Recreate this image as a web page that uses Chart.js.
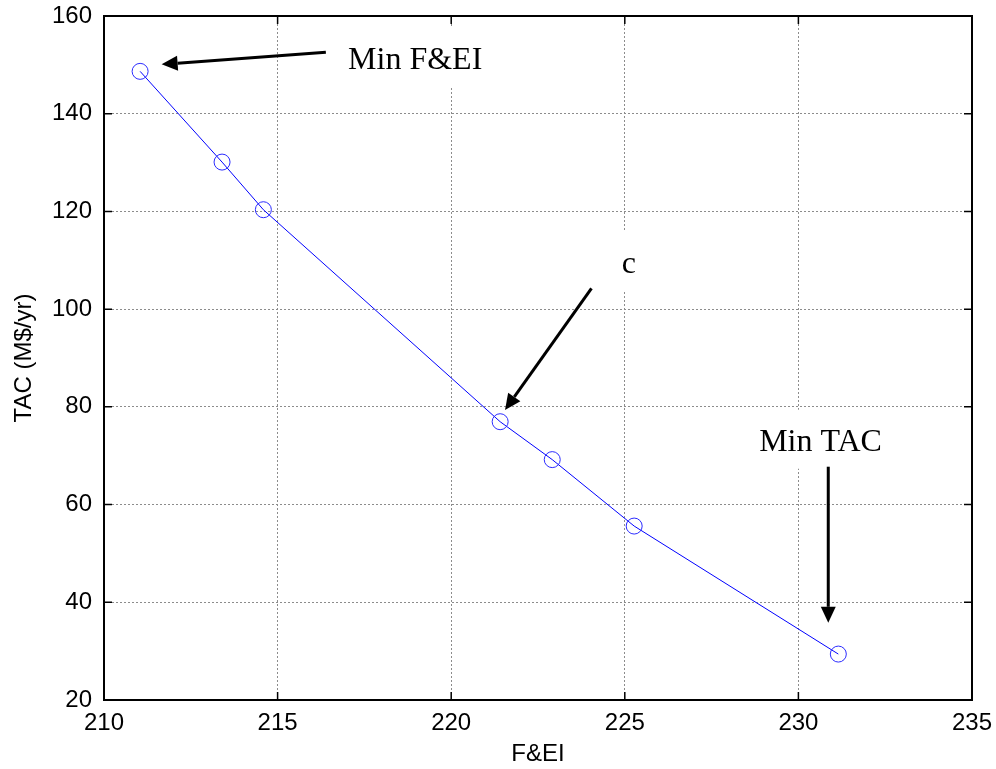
<!DOCTYPE html>
<html>
<head>
<meta charset="utf-8">
<script src="https://cdn.jsdelivr.net/npm/chart.js@4/dist/chart.umd.min.js"></script>
<style>
    html, body { margin: 0; padding: 0; background: #fff; }
    #paretoChart { display: block; }
</style>
</head>
<body>
<canvas id="paretoChart" width="996" height="769"></canvas>
<script>
// Pareto front: F&EI against total annual cost
const feiValues = [211.04, 213.40, 214.59, 221.41, 222.91, 225.27, 231.15];
const tacValues = [148.67, 130.10, 120.35, 76.96, 69.20, 55.60, 29.40];

const xTicks = [210, 215, 220, 225, 230, 235];
const yTicks = [20, 40, 60, 80, 100, 120, 140, 160];

// annotation labels (left edge / baseline, in data units)
const noteText = ["Min F&EI", "c", "Min TAC"];
const noteX = [217.03, 224.91, 228.87];
const noteY = [149.15, 107.40, 71.02];

// arrows: tail -> tip, in data units
const arrowFromX = [216.39, 224.04, 230.86];
const arrowFromY = [152.60, 104.26, 67.75];
const arrowToX = [211.66, 221.55, 230.86];
const arrowToY = [150.10, 79.35, 35.80];

const points = feiValues.map((x, i) => ({ x: x, y: tacValues[i] }));

// white label boxes, arrows and text drawn over the grid
const notesPlugin = {
    id: "notes",
    afterDatasetsDraw(chart) {
        const ctx = chart.ctx;
        const xs = chart.scales.x, ys = chart.scales.y;
        ctx.save();
        ctx.font = "32px 'Liberation Serif', 'Times New Roman', serif";
        ctx.textBaseline = "alphabetic";
        ctx.textAlign = "left";

        noteText.forEach((t, i) => {
            const px = xs.getPixelForValue(noteX[i]);
            const py = ys.getPixelForValue(noteY[i]);
            const w = ctx.measureText(t).width;
            ctx.fillStyle = "#fff";
            ctx.fillRect(px - 8, py - 41, w + 16, 59);
        });

        ctx.strokeStyle = "#000";
        ctx.fillStyle = "#000";
        ctx.lineWidth = 3;
        arrowFromX.forEach((fx, i) => {
            const x0 = xs.getPixelForValue(fx), y0 = ys.getPixelForValue(arrowFromY[i]);
            const x1 = xs.getPixelForValue(arrowToX[i]), y1 = ys.getPixelForValue(arrowToY[i]);
            const ang = Math.atan2(y1 - y0, x1 - x0);
            const headLen = 16, headHalf = 7.5;
            const bx = x1 - headLen * Math.cos(ang), by = y1 - headLen * Math.sin(ang);
            ctx.beginPath();
            ctx.moveTo(x0, y0);
            ctx.lineTo(bx, by);
            ctx.stroke();
            ctx.beginPath();
            ctx.moveTo(x1, y1);
            ctx.lineTo(bx + headHalf * Math.sin(ang), by - headHalf * Math.cos(ang));
            ctx.lineTo(bx - headHalf * Math.sin(ang), by + headHalf * Math.cos(ang));
            ctx.closePath();
            ctx.fill();
        });

        ctx.fillStyle = "#000";
        noteText.forEach((t, i) => {
            ctx.fillText(t, xs.getPixelForValue(noteX[i]), ys.getPixelForValue(noteY[i]));
        });
        ctx.restore();
    }
};

// box around the axes with inward ticks on all four sides
const framePlugin = {
    id: "frame",
    afterDraw(chart) {
        const ctx = chart.ctx;
        const a = chart.chartArea;
        const xs = chart.scales.x, ys = chart.scales.y;
        const len = 8;
        ctx.save();
        ctx.strokeStyle = "#000";
        ctx.lineWidth = 1.5;
        ctx.beginPath();
        xTicks.forEach(v => {
            const px = xs.getPixelForValue(v);
            ctx.moveTo(px, a.bottom); ctx.lineTo(px, a.bottom - len);
            ctx.moveTo(px, a.top); ctx.lineTo(px, a.top + len);
        });
        yTicks.forEach(v => {
            const py = ys.getPixelForValue(v);
            ctx.moveTo(a.left, py); ctx.lineTo(a.left + len, py);
            ctx.moveTo(a.right, py); ctx.lineTo(a.right - len, py);
        });
        ctx.stroke();
        ctx.lineWidth = 2;
        ctx.strokeRect(a.left, a.top, a.right - a.left, a.bottom - a.top);
        ctx.restore();
    }
};

const tickFont = { family: "'Liberation Sans', Arial, sans-serif", size: 24 };

new Chart(document.getElementById("paretoChart").getContext("2d"), {
    type: "scatter",
    data: {
        datasets: [{
            data: points,
            showLine: true,
            borderColor: "#0000ff",
            borderWidth: 1,
            pointStyle: "circle",
            pointRadius: 8,
            pointHoverRadius: 8,
            pointBorderColor: "#2b2bff",
            pointBorderWidth: 1,
            pointBackgroundColor: "rgba(0,0,0,0)",
            tension: 0
        }]
    },
    options: {
        responsive: false,
        devicePixelRatio: 1,
        animation: false,
        events: [],
        layout: { padding: { top: 16, right: 24, left: 0, bottom: 0 } },
        plugins: {
            legend: { display: false },
            tooltip: { enabled: false }
        },
        scales: {
            x: {
                type: "linear",
                min: 210,
                max: 235,
                afterBuildTicks: s => { s.ticks = xTicks.map(v => ({ value: v })); },
                afterFit: s => { s.height = 69; s.paddingLeft = 0; s.paddingRight = 0; },
                ticks: { color: "#000", font: tickFont, padding: 9 },
                grid: { color: "#8c8c8c", lineWidth: 1, drawTicks: false },
                border: { display: false, dash: [2, 2] },
                title: { display: true, text: "F&EI", color: "#000", font: tickFont, padding: 0 }
            },
            y: {
                type: "linear",
                min: 20,
                max: 160,
                afterBuildTicks: s => { s.ticks = yTicks.map(v => ({ value: v })); },
                afterFit: s => { s.width = 104; s.paddingTop = 0; s.paddingBottom = 0; },
                ticks: { color: "#000", font: tickFont, padding: 12 },
                grid: { color: "#8c8c8c", lineWidth: 1, drawTicks: false },
                border: { display: false, dash: [2, 2] },
                title: { display: true, text: "TAC (M$/yr)", color: "#000", font: tickFont, padding: { top: 10 } }
            }
        }
    },
    plugins: [notesPlugin, framePlugin]
});
</script>
</body>
</html>
